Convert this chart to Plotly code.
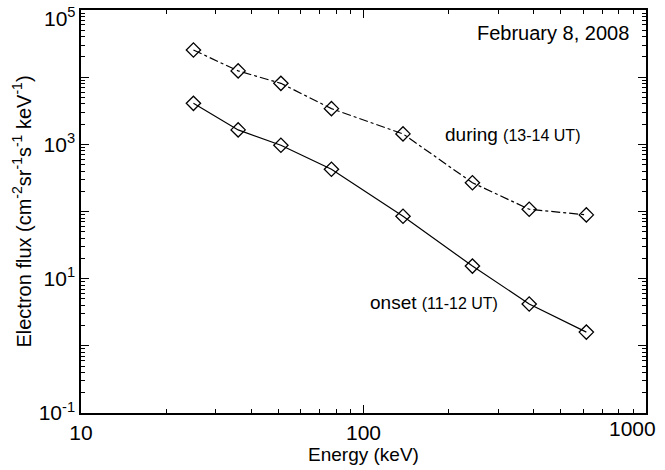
import plotly.graph_objects as go

energy = [25, 36, 51, 77, 138, 243, 386, 615]
flux_during = [25400, 12400, 8100, 3400, 1430, 268, 108, 89]
flux_onset = [4080, 1640, 970, 425, 85, 15.4, 4.2, 1.6]

y_major = [0.1, 1, 10, 100, 1000, 1e4, 1e5]
y_labels = ["10<sup>-1</sup>", "", "10<sup>1</sup>", "", "10<sup>3</sup>", "", ""]
y_top_label = "10<sup>5</sup>"
x_major = [10, 100, 1000]
x_labels = ["10", "100", ""]
x_last_label = "1000"

FONT = "Liberation Sans, Arial, Helvetica, sans-serif"

fig = go.Figure()
fig.add_trace(go.Scatter(
    x=energy, y=flux_during, mode="lines+markers",
    line=dict(color="black", width=1.2, dash="dashdot"),
    marker=dict(symbol="diamond-open", size=11, color="black", line=dict(width=1.3)),
    showlegend=False))
fig.add_trace(go.Scatter(
    x=energy, y=flux_onset, mode="lines+markers",
    line=dict(color="black", width=1.2),
    marker=dict(symbol="diamond-open", size=11, color="black", line=dict(width=1.3)),
    showlegend=False))

x_minor = [m * d for d in (10, 100) for m in range(2, 10)]
y_minor = [m * d for d in (0.1, 1, 10, 100, 1000, 1e4) for m in range(2, 10)]

fig.update_xaxes(
    type="log", range=[0.99995, 3.00005], automargin=False,
    tickvals=x_major, ticktext=x_labels,
    ticks="inside", ticklen=8, tickwidth=1.2, tickcolor="black",
    minor=dict(tickvals=x_minor, ticks="inside", ticklen=4, tickwidth=1, tickcolor="black"),
    showline=True, linecolor="black", linewidth=1.5, mirror="allticks",
    showgrid=False, zeroline=False, ticklabeloverflow="allow",
    tickfont=dict(size=21, color="black", family=FONT),
    title=dict(text="Energy (keV)", font=dict(size=19, color="black", family=FONT), standoff=4),
)
fig.update_yaxes(
    type="log", range=[-1.0001, 5.0001], automargin=False,
    tickvals=y_major, ticktext=y_labels,
    ticks="inside", ticklen=8, tickwidth=1.2, tickcolor="black",
    minor=dict(tickvals=y_minor, ticks="inside", ticklen=4, tickwidth=1, tickcolor="black"),
    showline=True, linecolor="black", linewidth=1.5, mirror="allticks",
    showgrid=False, zeroline=False, ticklabeloverflow="allow",
    tickfont=dict(size=21, color="black", family=FONT),
    title=dict(text="Electron flux (cm<sup>-2</sup>sr<sup>-1</sup>s<sup>-1</sup> keV<sup>-1</sup>)",
               font=dict(size=20, color="black", family=FONT), standoff=2),
)

fig.add_annotation(xref="x", yref="paper", x=3, y=0, text=x_last_label,
                   showarrow=False, xanchor="center", yanchor="top", xshift=-13, yshift=-2,
                   font=dict(size=21, color="black", family=FONT))
fig.add_annotation(xref="paper", yref="paper", x=0, y=1, text=y_top_label,
                   showarrow=False, xanchor="right", yanchor="top", xshift=-3, yshift=8,
                   font=dict(size=21, color="black", family=FONT))
fig.add_annotation(xref="paper", yref="paper", x=0.973, y=0.943, text="February 8, 2008",
                   showarrow=False, xanchor="right", yanchor="middle",
                   font=dict(size=20, color="black", family=FONT))
fig.add_annotation(xref="paper", yref="paper", x=0.641, y=0.690,
                   text="during <span style='font-size:16px'>(13-14 UT)</span>",
                   showarrow=False, xanchor="left", yanchor="middle",
                   font=dict(size=19, color="black", family=FONT))
fig.add_annotation(xref="paper", yref="paper", x=0.508, y=0.275,
                   text="onset <span style='font-size:16px'>(11-12 UT)</span>",
                   showarrow=False, xanchor="left", yanchor="middle",
                   font=dict(size=19, color="black", family=FONT))

fig.update_layout(
    width=665, height=470,
    margin=dict(l=81, r=19, t=10, b=57, autoexpand=False),
    paper_bgcolor="white", plot_bgcolor="white",
    font=dict(family=FONT, color="black"),
)

fig.write_html("out.html")
